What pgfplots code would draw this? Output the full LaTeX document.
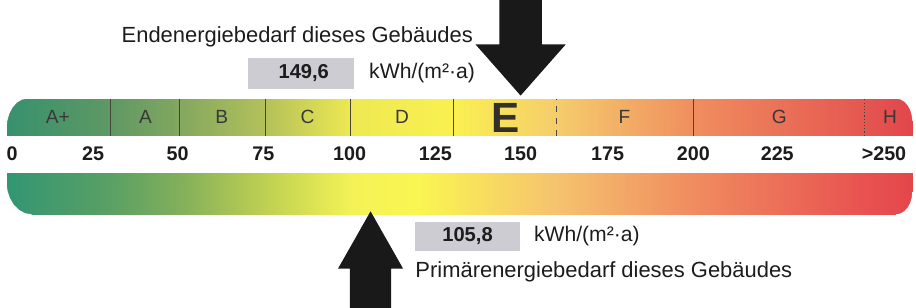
\documentclass[border=0pt]{standalone}
\usepackage{pgfplots}
\pgfplotsset{compat=1.18}
\usepackage{fontspec}
\setmainfont{Liberation Sans}
\pgfplotsset{
  colormap={topbar}{rgb255(0pt)=(55,145,110) rgb255(30.44pt)=(95,152,100)
    rgb255(50.44pt)=(130,167,95) rgb255(75.44pt)=(180,193,90) rgb255(100.44pt)=(238,233,82)
    rgb255(130.44pt)=(250,240,80) rgb255(160.44pt)=(245,205,108) rgb255(200.44pt)=(240,142,95)
    rgb255(250.44pt)=(229,86,80) rgb255(264.34pt)=(225,70,75)},
  colormap={botbar}{rgb255(0pt)=(50,150,115) rgb255(30.44pt)=(90,160,100)
    rgb255(50.44pt)=(130,175,90) rgb255(75.44pt)=(190,208,82) rgb255(100.44pt)=(243,242,86)
    rgb255(120.44pt)=(250,245,82) rgb255(160.44pt)=(245,195,110) rgb255(200.44pt)=(240,140,95)
    rgb255(250.44pt)=(232,82,80) rgb255(264.34pt)=(228,70,75)},
}
\definecolor{boxgray}{RGB}{204,204,210}
\definecolor{txt}{RGB}{28,28,28}
\definecolor{arrowc}{RGB}{25,25,25}
\definecolor{sep}{RGB}{70,70,60}
\begin{document}
\begin{tikzpicture}
\begin{axis}[
  width=458bp, height=155.5bp, scale only axis,
  xmin=-3.96, xmax=265.04, ymin=0, ymax=311,
  hide axis, clip=false,
  point meta min=-0.44, point meta max=263.9]
% ---------- top bar (class scale) ----------
\addplot[surf, shader=interp, colormap name=topbar, mesh/rows=2, point meta=x] coordinates {
  (-0.44,171) (30,171) (50,171) (75,171) (100,171) (130,171) (160,171) (200,171) (250,171) (263.9,171)
  (-0.44,208) (30,208) (50,208) (75,208) (100,208) (130,208) (160,208) (200,208) (250,208) (263.9,208)};
% rounded corners (white masks)
\addplot[draw=none, fill=white] coordinates {
  (-1.5,209) (5.56,209) (5.56,208) (4.01,206.98) (2.56,203.98)
  (1.32,199.21) (0.36,193) (-0.24,185.76) (-0.44,178) (-1.5,178)} --cycle;
\addplot[draw=none, fill=white] coordinates {
  (259.2,209) (259.2,208) (260.42,207.25) (261.55,205.05) (262.52,201.56)
  (263.27,197) (263.74,191.69) (263.9,186) (265,186) (265,209)} --cycle;
% class separators
\addplot[sep, line width=0.5bp] coordinates {(30,171) (30,208)};
\addplot[sep, line width=0.5bp] coordinates {(50,171) (50,208)};
\addplot[sep, line width=0.5bp] coordinates {(75,171) (75,208)};
\addplot[sep, line width=0.5bp] coordinates {(100,171) (100,208)};
\addplot[sep, line width=0.5bp] coordinates {(130,171) (130,208)};
\addplot[sep, line width=0.5bp, dashed] coordinates {(160,171) (160,208)};
\addplot[sep, line width=0.5bp] coordinates {(200,171) (200,208)};
\addplot[sep, line width=0.6bp, densely dotted] coordinates {(250,171) (250,208)};
% class letters
\begin{scope}[every node/.style={text=black!78, font=\fontsize{9.5bp}{11bp}\selectfont}]
\node at (axis cs:14.5,189.5) {A+};
\node at (axis cs:40.1,189.5) {A};
\node at (axis cs:62.4,189.5) {B};
\node at (axis cs:87.4,189.5) {C};
\node at (axis cs:115,189.5) {D};
\node at (axis cs:179.9,189.5) {F};
\node at (axis cs:225.1,189.5) {G};
\node at (axis cs:257.4,189.5) {H};
\end{scope}
\node[text=black!85!olive, font=\fontsize{21bp}{24bp}\selectfont\bfseries] at (axis cs:145.2,189) {E};
% ---------- tick labels ----------
\begin{scope}[every node/.style={text=txt, font=\fontsize{9.8bp}{11bp}\selectfont\bfseries}]
\node at (axis cs:1.2,153) {0};
\node at (axis cs:24.8,153) {25};
\node at (axis cs:49.5,153) {50};
\node at (axis cs:74.5,153) {75};
\node at (axis cs:99.7,153) {100};
\node at (axis cs:124.7,153) {125};
\node at (axis cs:149.6,153) {150};
\node at (axis cs:175,153) {175};
\node at (axis cs:200,153) {200};
\node at (axis cs:224.5,153) {225};
\node[anchor=east] at (axis cs:264.2,153) {>250};
\end{scope}
% ---------- bottom bar (continuous scale) ----------
\addplot[surf, shader=interp, colormap name=botbar, mesh/rows=2, point meta=x] coordinates {
  (-0.44,93) (30,93) (50,93) (75,93) (100,93) (120,93) (160,93) (200,93) (250,93) (263.9,93)
  (-0.44,134) (30,134) (50,134) (75,134) (100,134) (120,134) (160,134) (200,134) (250,134) (263.9,134)};
\addplot[draw=none, fill=white] coordinates {
  (-1.5,125) (-0.44,125) (-0.19,116.72) (0.54,109) (1.70,102.37) (3.21,97.29)
  (4.97,94.09) (6.86,93) (6.86,92) (-1.5,92)} --cycle;
\addplot[draw=none, fill=white] coordinates {
  (259.2,92) (259.2,93) (260.42,93.75) (261.55,95.95) (262.52,99.44) (263.27,104)
  (263.74,109.31) (263.9,115) (265,115) (265,92)} --cycle;
% ---------- end energy (top) ----------
\addplot[draw=none, fill=arrowc] coordinates {
  (143.4,306) (155.8,306) (155.8,262) (162.8,262) (149.6,211) (136.4,262) (143.4,262)} --cycle;
\addplot[draw=none, fill=boxgray] coordinates {(70.0,218) (100.9,218) (100.9,248) (70.0,248)} --cycle;
\node[text=txt, font=\fontsize{10bp}{12bp}\selectfont\bfseries] at (axis cs:86.3,233) {149,6};
\node[anchor=west, inner sep=0pt, text=txt, font=\fontsize{10.5bp}{12bp}\selectfont] at (axis cs:105.3,233) {kWh/(m²·a)};
\node[anchor=east, inner sep=0pt, text=txt, font=\fontsize{10.9bp}{13bp}\selectfont] at (axis cs:135.8,269) {Endenergiebedarf dieses Gebäudes};
% ---------- primary energy (bottom) ----------
\addplot[draw=none, fill=arrowc] coordinates {
  (99.8,0) (111.8,0) (111.8,39) (115.3,39) (105.8,96) (96.3,39) (99.8,39)} --cycle;
\addplot[draw=none, fill=boxgray] coordinates {(118.8,57) (149.3,57) (149.3,85) (118.8,85)} --cycle;
\node[text=txt, font=\fontsize{10bp}{12bp}\selectfont\bfseries] at (axis cs:134.1,71) {105,8};
\node[anchor=west, inner sep=0pt, text=txt, font=\fontsize{10.5bp}{12bp}\selectfont] at (axis cs:153.4,71) {kWh/(m²·a)};
\node[anchor=west, inner sep=0pt, text=txt, font=\fontsize{10.9bp}{13bp}\selectfont] at (axis cs:118.8,36) {Primärenergiebedarf dieses Gebäudes};
\end{axis}
\end{tikzpicture}
\end{document}
